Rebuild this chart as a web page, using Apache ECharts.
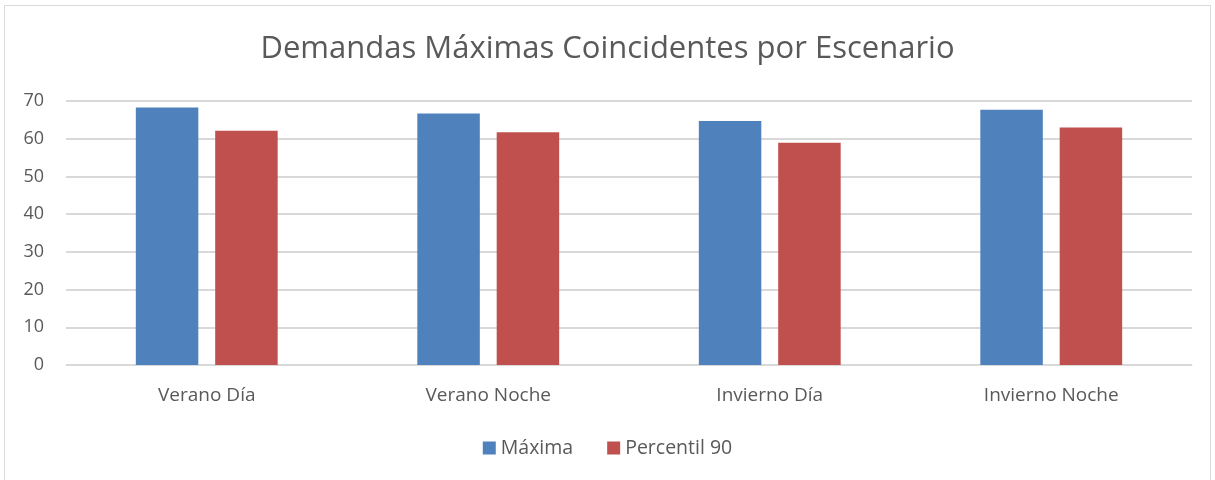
<!DOCTYPE html>
<html>
<head>
<meta charset="utf-8">
<script src="https://cdn.jsdelivr.net/npm/echarts@6/dist/echarts.min.js"></script>
<style>
  html, body { margin: 0; padding: 0; background: #fff; }
  #main { width: 1215px; height: 480px; }
</style>
</head>
<body>
<div id="main"></div>
<script>
  const categories = ['Verano Día', 'Verano Noche', 'Invierno Día', 'Invierno Noche']
  const maxima = [68.3, 66.7, 64.7, 67.7]
  const percentil90 = [62.1, 61.7, 58.9, 63.0]
  const yTicks = {min: 0, max: 70, interval: 10}

  const textColor = '#595959'
  const font = 'Open Sans'

  const chart = echarts.init(document.getElementById('main'))
  chart.setOption({
    backgroundColor: '#fff',
    animation: false,
    graphic: [{
      type: 'rect',
      shape: {x: 4.5, y: 5.5, width: 1206, height: 480},
      style: {fill: 'none', stroke: '#d9d9d9', lineWidth: 1}
    }],
    title: {
      text: 'Demandas Máximas Coincidentes por Escenario',
      left: 'center',
      top: 29,
      textStyle: {color: textColor, fontFamily: font, fontSize: 31, fontWeight: 'normal'}
    },
    legend: {
      bottom: 17,
      left: 'center',
      itemWidth: 13,
      itemHeight: 13,
      itemGap: 34,
      icon: 'rect',
      textStyle: {color: textColor, fontFamily: font, fontSize: 19.5},
      data: ['Máxima', 'Percentil 90']
    },
    grid: {left: 66, right: 23, top: 101, bottom: 115},
    xAxis: {
      type: 'category',
      data: categories,
      axisTick: {show: false},
      axisLine: {lineStyle: {color: '#d9d9d9', width: 1}},
      axisLabel: {color: textColor, fontFamily: font, fontSize: 19, margin: 21}
    },
    yAxis: {
      type: 'value',
      min: yTicks.min,
      max: yTicks.max,
      interval: yTicks.interval,
      axisLine: {show: false},
      axisTick: {show: false},
      splitLine: {lineStyle: {color: '#d9d9d9', width: 2}},
      axisLabel: {color: textColor, fontFamily: font, fontSize: 18, margin: 22}
    },
    series: [{
      name: 'Máxima',
      type: 'bar',
      data: maxima,
      barWidth: '22.2%',
      barGap: '27%',
      itemStyle: {color: '#4f81bd'}
    }, {
      name: 'Percentil 90',
      type: 'bar',
      data: percentil90,
      barWidth: '22.2%',
      itemStyle: {color: '#c0504d'}
    }]
  })
</script>
</body>
</html>
